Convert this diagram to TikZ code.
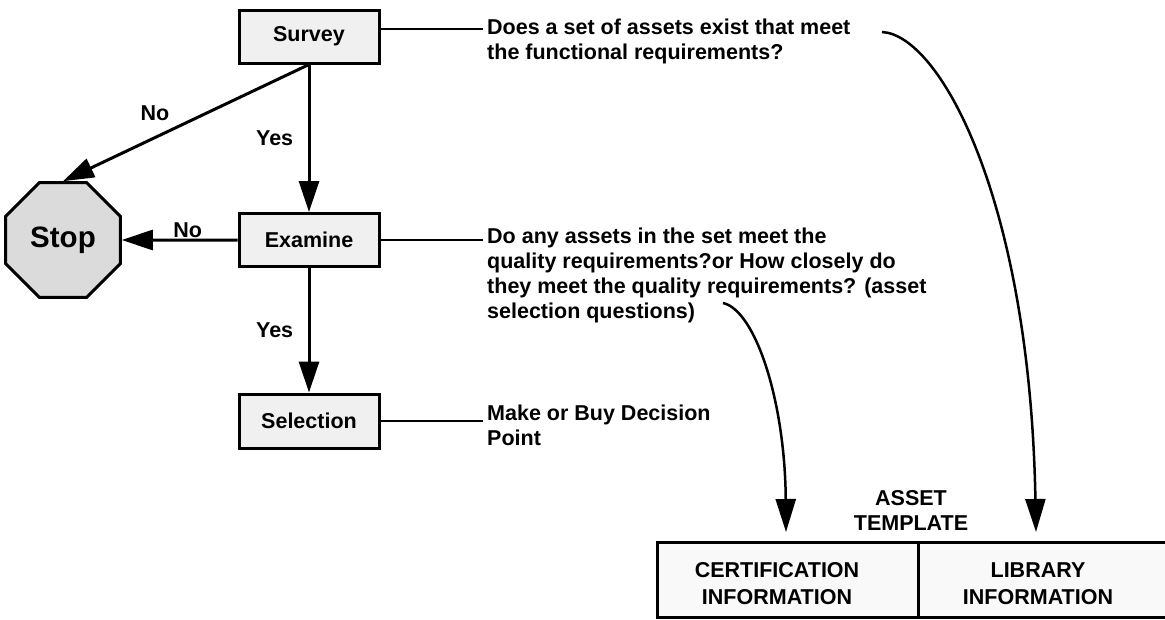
\documentclass[tikz,border=0pt]{standalone}
\usepackage{fontspec}
\setmainfont{Liberation Sans}
\usetikzlibrary{arrows.meta,shapes.geometric}

\begin{document}
\begin{tikzpicture}[x=1pt, y=-1pt,
  every node/.style={font=\bfseries\fontsize{21.5}{25}\selectfont},
  stepbox/.style={draw, line width=3pt, fill=gray!12, minimum width=140pt, minimum height=53pt, inner sep=0pt},
  stopsign/.style={draw, line width=3pt, fill=gray!28, regular polygon, regular polygon sides=8,
    minimum size=124pt, inner sep=0pt, font=\bfseries\fontsize{29.5}{30}\selectfont},
  flow/.style={line width=3pt, -{Triangle[length=31pt,width=20pt]}},
  bendarrow/.style={line width=2.5pt, -{Triangle[length=33pt,width=20pt]}},
  note/.style={align=left, anchor=north west, inner xsep=4pt, inner ysep=0pt},
  lead/.style={line width=1.6pt},
  cell/.style={align=center, anchor=north, inner sep=0pt}]
\useasboundingbox (0,0) rectangle (1165,619);
\clip (0,0) rectangle (1165,619);

\node[stepbox] at (309,36.5) (1) {Survey};
\node[stepbox] at (309,240) (2) {Examine};
\node[stepbox, minimum height=54pt] at (309,421) (3) {Selection};
\node[stopsign] at (63,240) (0) {Stop};

\draw[flow] (1) -- (2) node[midway, left=11pt] {Yes};
\draw[flow] (2) -- (3) node[midway, left=11pt] {Yes};
\draw[flow] (1.south) -- (0.north) node[pos=0.626, above=12pt] {No};
\draw[flow] (2) -- (0) node[pos=0.43, above, inner sep=1pt] {No};

\node[note] at (483,19) (11) {Does a set of assets exist that meet\\the functional requirements?};
\draw[lead] ([yshift=7.5pt]1.east) -- ([yshift=7.5pt]1.east -| 11.west);
\node[note] at (483,228) (21) {Do any assets in the set meet the\\quality requirements?or How closely do\\they meet the quality requirements? (asset\\selection questions)};
\draw[lead] (2.east) -- (2.east -| 21.west);
\node[note] at (483,405) (31) {Make or Buy Decision\\Point};
\draw[lead] (3.east) -- (3.east -| 31.west);

\fill[gray!5] (657,542) rectangle (1180,617);
\draw[line width=3pt] (657,542) rectangle (1180,617);
\draw[line width=3pt] (918,542) -- (918,617);
\node[cell] at (911,490) (4) {ASSET\\TEMPLATE};
\node[cell, font=\bfseries\fontsize{21.5}{27.5}\selectfont] at (777,562) (41) {CERTIFICATION\\INFORMATION};
\node[cell, font=\bfseries\fontsize{21.5}{27.5}\selectfont] at (1038,562) (42) {LIBRARY\\INFORMATION};

\coordinate (q1) at (882,32); \coordinate (t1) at (1036,532);
\draw[bendarrow] (q1) .. controls (940,35) and (1030,200) .. (t1);
\coordinate (q2) at (723,303); \coordinate (t2) at (786,532);
\draw[bendarrow] (q2) .. controls (755,310) and (785,400) .. (t2);
\end{tikzpicture}
\end{document}
